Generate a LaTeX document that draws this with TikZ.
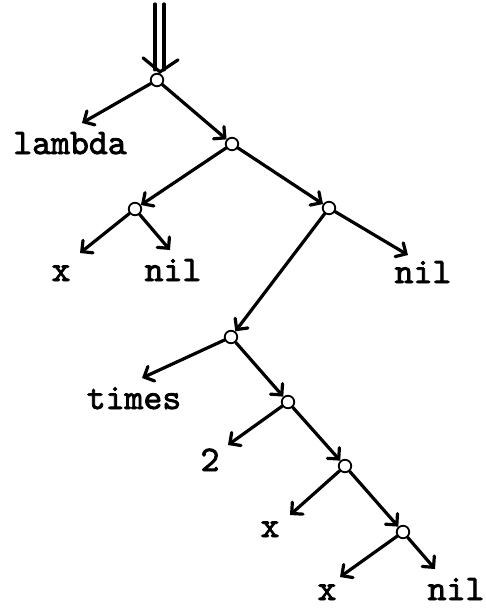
\documentclass[tikz,border=0pt]{standalone}
\usepackage{fontspec}
\newfontfamily\typer[FakeBold=2.2]{lmmono10-regular.otf}
\usetikzlibrary{arrows.meta,calc}

\begin{document}
\begin{tikzpicture}[x=1pt,y=-1pt,
  joint/.style={circle,draw,fill=white,line width=1.8pt,minimum size=12.5pt,inner sep=0pt},
  leaf/.style={anchor=base,inner sep=0pt,font=\typer\fontsize{36}{36}\selectfont},
  edge/.style={line width=3.2pt,line cap=round,
    -{Straight Barb[length=8pt,width=16pt,line cap=round]}},
  stem/.style={line width=3.2pt,line cap=round,line join=miter}]
\useasboundingbox (0,0) rectangle (486,608);

% cons cells
\node[joint] (root) at (157,80) {};
\node[joint] (n2) at (232,144) {};
\node[joint] (n3) at (135,209) {};
\node[joint] (n4) at (329,208) {};
\node[joint] (n5) at (231,337) {};
\node[joint] (n6) at (288,402) {};
\node[joint] (n7) at (345,466) {};
\node[joint] (n8) at (403,532) {};

% atoms
\node[leaf] (lambda) at (70,154) {lambda};
\node[leaf] (xa)     at (61,281) {x};
\node[leaf] (nila)   at (173,281) {nil};
\node[leaf] (nilb)   at (423,283) {nil};
\node[leaf] (times)  at (134,409) {times};
\node[leaf] (two)    at (210,471) {2};
\node[leaf] (xb)     at (270,537) {x};
\node[leaf] (xc)     at (327,600) {x};
\node[leaf] (nilc)   at (456,600) {nil};

% arrow tips pointing at the atoms
\coordinate (t-lambda) at (82,123);
\coordinate (t-xa)     at (80,253);
\coordinate (t-nila)   at (170,250);
\coordinate (t-nilb)   at (408,255);
\coordinate (t-times)  at (142,378);
\coordinate (t-two)    at (228,445);
\coordinate (t-xb)     at (290,515);
\coordinate (t-xc)     at (340,577);
\coordinate (t-nilc)   at (435,569);

% entry double arrow
\coordinate (in) at (159.5,4);
\draw[stem] ($(in)+(-4.5,0)$) -- ($(in |- root.north)+(-4.5,-3)$);
\draw[stem] ($(in)+(4.5,0)$) -- ($(in |- root.north)+(4.5,-3)$);
\draw[stem] ($(root.north)+(-14,-15)$) -- ($(root.north)+(3,-1)$) -- ($(root.north)+(21,-13)$);

% pointers
\draw[edge] (root) -- (t-lambda);
\draw[edge] (root) -- (n2);
\draw[edge] (n2) -- (n3);
\draw[edge] (n2) -- (n4);
\draw[edge] (n3) -- (t-xa);
\draw[edge] (n3) -- (t-nila);
\draw[edge] (n4) -- (t-nilb);
\draw[edge] (n4) -- (n5);
\draw[edge] (n5) -- (t-times);
\draw[edge] (n5) -- (n6);
\draw[edge] (n6) -- (t-two);
\draw[edge] (n6) -- (n7);
\draw[edge] (n7) -- (t-xb);
\draw[edge] (n7) -- (n8);
\draw[edge] (n8) -- (t-xc);
\draw[edge] (n8) -- (t-nilc);
\end{tikzpicture}
\end{document}
